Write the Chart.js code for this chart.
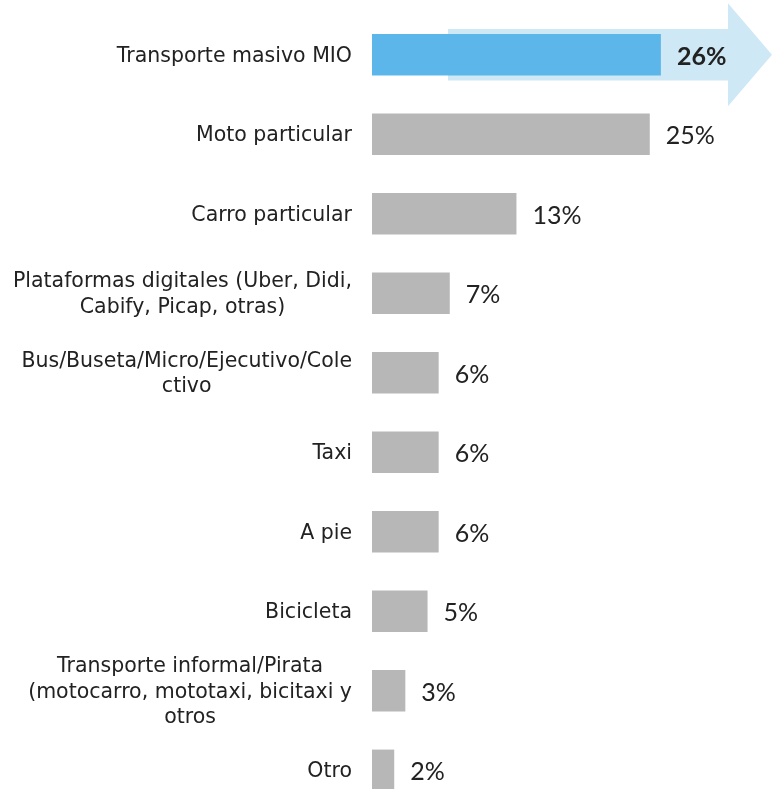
<!DOCTYPE html>
<html>
<head>
<meta charset="utf-8">
<script src="https://cdn.jsdelivr.net/npm/chart.js@4.4.1/dist/chart.umd.min.js"></script>
<style>
  html, body { margin: 0; padding: 0; background: #fff; overflow: hidden; }
  #wrap { width: 772px; height: 812px; position: relative; }
</style>
</head>
<body>
<div id="wrap"><canvas id="modoChart"></canvas></div>
<script>
const categories = [
  ["Transporte masivo MIO"],
  ["Moto particular"],
  ["Carro particular"],
  ["Plataformas digitales (Uber, Didi,", "Cabify, Picap, otras)"],
  ["Bus/Buseta/Micro/Ejecutivo/Cole", "ctivo"],
  ["Taxi"],
  ["A pie"],
  ["Bicicleta"],
  ["Transporte informal/Pirata", "(motocarro, mototaxi, bicitaxi y", "otros"],
  ["Otro"]
];
const shares = [26, 25, 13, 7, 6, 6, 6, 5, 3, 2];
const barColors = ["#5db6e9", "#b7b7b7", "#b7b7b7", "#b7b7b7", "#b7b7b7", "#b7b7b7", "#b7b7b7", "#b7b7b7", "#b7b7b7", "#b7b7b7"];

const labelFont = "'DejaVu Sans', sans-serif";
const valueFont = "Lato, 'Noto Sans', sans-serif";

// light blue arrow behind the highlighted bar
const arrowPlugin = {
  id: "arrow",
  beforeDatasetsDraw(chart) {
    const ctx = chart.ctx;
    const bar = chart.getDatasetMeta(0).data[0];
    const area = chart.chartArea;
    const cy = bar.y;
    const bodyHalf = bar.height / 2 + 5;
    const headHalf = 51.5;
    const x0 = area.left + 76;
    const xHead = area.right - 44;
    const xTip = area.right;
    ctx.save();
    ctx.fillStyle = "#cfe8f6";
    ctx.beginPath();
    ctx.moveTo(x0, cy - bodyHalf);
    ctx.lineTo(xHead, cy - bodyHalf);
    ctx.lineTo(xHead, cy - headHalf);
    ctx.lineTo(xTip, cy);
    ctx.lineTo(xHead, cy + headHalf);
    ctx.lineTo(xHead, cy + bodyHalf);
    ctx.lineTo(x0, cy + bodyHalf);
    ctx.closePath();
    ctx.fill();
    ctx.restore();
  }
};

// category labels (multi-line centred on themselves, right edge at the axis) and value labels
const labelPlugin = {
  id: "labels",
  afterDatasetsDraw(chart) {
    const ctx = chart.ctx;
    const yScale = chart.scales.y;
    const meta = chart.getDatasetMeta(0);
    const rightEdge = chart.chartArea.left - 20;
    const lineH = 25.5;
    ctx.save();
    ctx.fillStyle = "#222";
    ctx.textBaseline = "middle";
    ctx.font = "20.5px " + labelFont;
    categories.forEach((lines, i) => {
      const y = yScale.getPixelForTick(i);
      const maxW = Math.max(...lines.map(l => ctx.measureText(l).width));
      const cx = rightEdge - maxW / 2;
      ctx.textAlign = "center";
      const y0 = y + 1.5 - (lines.length - 1) * lineH / 2;
      lines.forEach((l, j) => ctx.fillText(l, cx, y0 + j * lineH));
    });
    ctx.textAlign = "left";
    meta.data.forEach((bar, i) => {
      ctx.font = (i === 0 ? "bold " : "") + "25px " + valueFont;
      ctx.fillText(shares[i] + "%", bar.x + 16, bar.y + 2);
    });
    ctx.restore();
  }
};

new Chart(document.getElementById("modoChart"), {
  type: "bar",
  data: {
    labels: categories.map(c => c.join(" ")),
    datasets: [{
      data: shares,
      backgroundColor: barColors,
      borderWidth: 0,
      categoryPercentage: 1,
      barPercentage: 0.52
    }]
  },
  options: {
    indexAxis: "y",
    responsive: true,
    maintainAspectRatio: false,
    animation: false,
    layout: { padding: { left: 372, right: 0, top: 15, bottom: 2 } },
    plugins: { legend: { display: false }, tooltip: { enabled: false } },
    scales: {
      x: { display: false, min: 0, max: 36 },
      y: { display: false }
    }
  },
  plugins: [arrowPlugin, labelPlugin]
});
</script>
</body>
</html>
